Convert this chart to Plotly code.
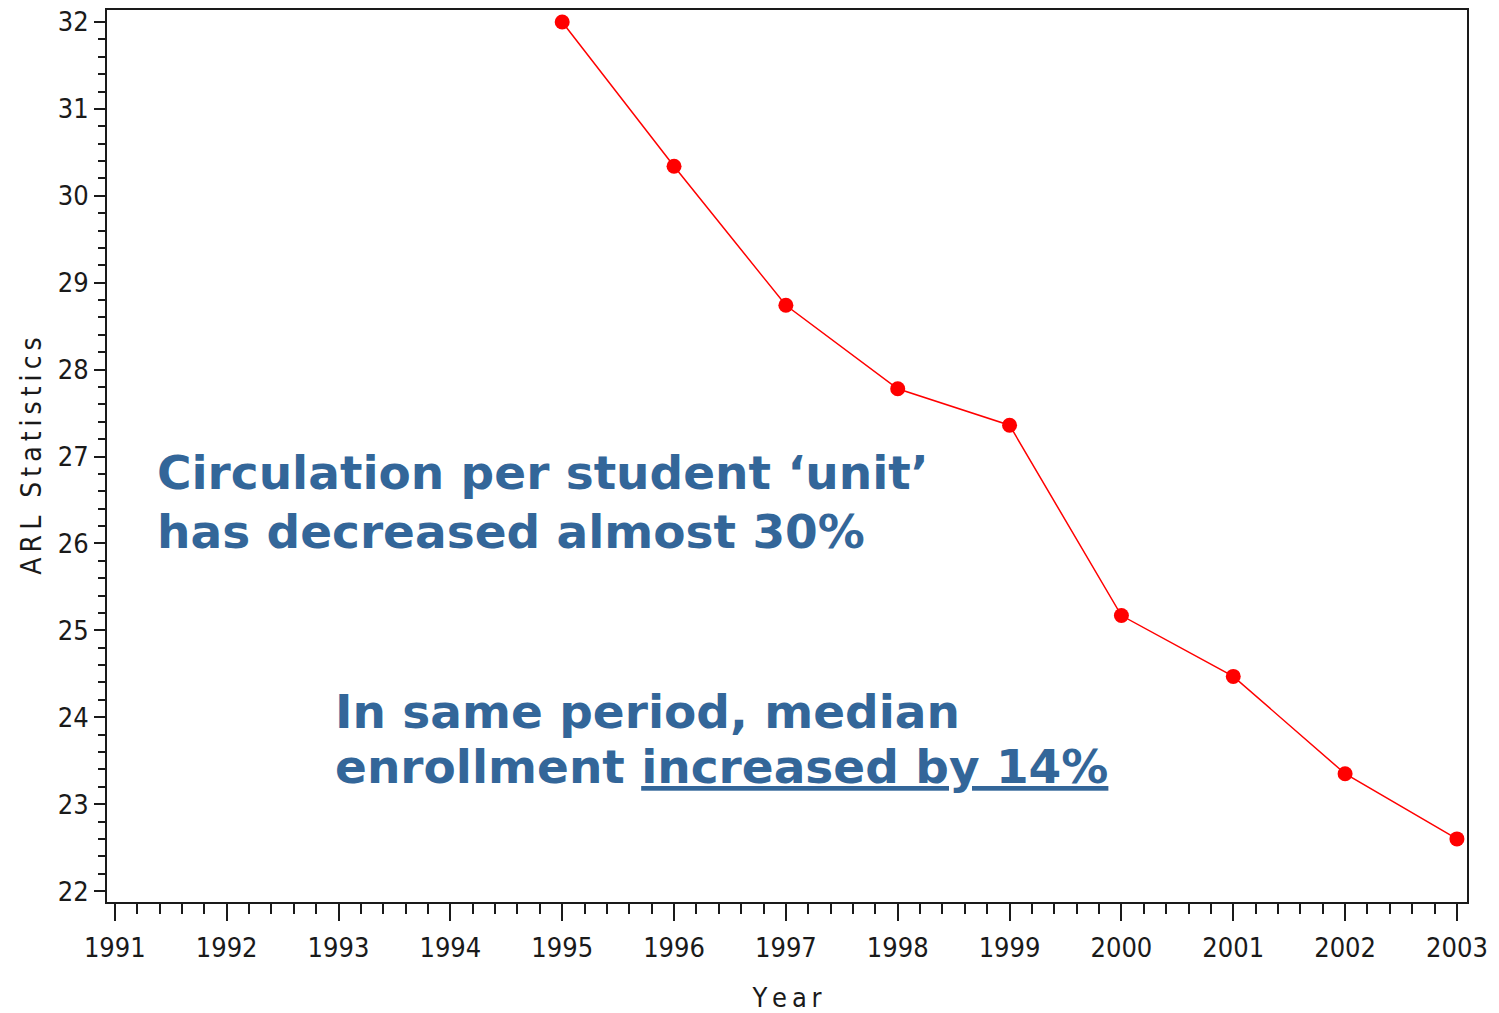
import plotly.graph_objects as go

# ARL circulation statistic per student unit, by year
years = [1995, 1996, 1997, 1998, 1999, 2000, 2001, 2002, 2003]
arl_values = [32.0, 30.34, 28.74, 27.78, 27.36, 25.17, 24.47, 23.35, 22.60]

x_tick_years = list(range(1991, 2004))
y_tick_values = list(range(22, 33))

TICK_FONT = "DejaVu Sans Condensed, Liberation Sans Narrow, sans-serif"
THIN = "\u2009"


def spaced(s):
    return THIN.join(str(s))


W, H = 1499, 1013
L, R, T, B = 107, 32, 10, 111
INK = "#1a1a1a"

fig = go.Figure()
fig.add_trace(go.Scatter(
    x=years, y=arl_values, mode="lines+markers",
    line=dict(color="#ff0000", width=1.5),
    marker=dict(color="#ff0000", size=15, line=dict(width=0)),
    showlegend=False, cliponaxis=False,
))

axis_common = dict(
    showline=True, linecolor=INK, linewidth=2, mirror=True,
    showgrid=False, zeroline=False, ticks="outside", tickcolor=INK,
    tickwidth=2, tickfont=dict(family=TICK_FONT, size=27, color=INK),
    automargin=False,
)

fig.update_xaxes(
    **axis_common,
    range=[1990.93, 2003.09],
    tickvals=x_tick_years, ticktext=[str(v) for v in x_tick_years],
    ticklen=17, ticklabelstandoff=4,
    minor=dict(dtick=0.2, tick0=1991, ticks="outside", ticklen=10, tickwidth=2, tickcolor=INK),
    title=dict(text=spaced("Year"), font=dict(family=TICK_FONT, size=27, color=INK), standoff=30),
)
fig.update_yaxes(
    **axis_common,
    range=[21.874, 32.138],
    tickvals=y_tick_values, ticktext=[str(v) for v in y_tick_values],
    ticklen=11,
    minor=dict(dtick=0.2, tick0=22, ticks="outside", ticklen=7, tickwidth=2, tickcolor=INK),
    title=dict(text=spaced("ARL Statistics"), font=dict(family=TICK_FONT, size=28, color=INK), standoff=8),
)


def px_x(px):
    return (px - L) / (W - L - R)


def px_y(py):
    return (H - B - py) / (H - T - B)


TEXT_FONT = dict(family="DejaVu Sans, Verdana, sans-serif", size=47, color="#336699")
lines = [
    ("<b>Circulation per student \u2018unit\u2019</b>", 155, 472),
    ("<b>has decreased almost 30%</b>", 155, 531),
    ("<b>In same period, median</b>", 333, 711),
    ("<b>enrollment <u>increased by 14%</u></b>", 333, 766),
]
for text, lx, ly in lines:
    fig.add_annotation(
        text=text, xref="paper", yref="paper", x=px_x(lx), y=px_y(ly),
        xanchor="left", yanchor="middle", showarrow=False, font=TEXT_FONT,
    )

fig.update_layout(
    width=W, height=H,
    margin=dict(l=L, r=R, t=T, b=B),
    paper_bgcolor="white", plot_bgcolor="white",
)

fig.write_html("out.html")
